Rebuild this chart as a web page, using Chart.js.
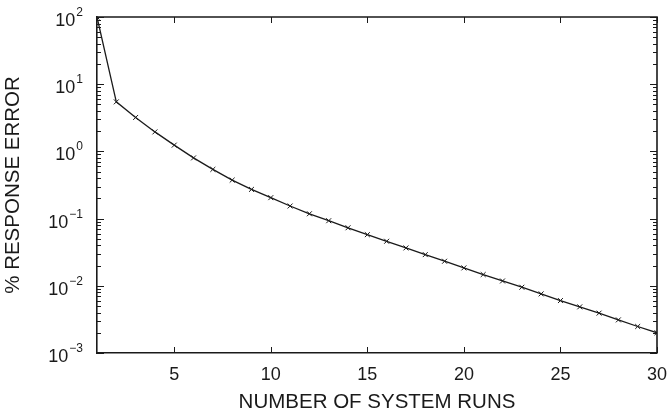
<!DOCTYPE html>
<html>
<head>
<meta charset="utf-8">
<script src="https://cdn.jsdelivr.net/npm/chart.js@4.4.1/dist/chart.umd.min.js"></script>
<style>
  html, body { margin: 0; padding: 0; background: #fff; }
  #chart { display: block; }
</style>
</head>
<body>
<canvas id="chart" width="667" height="415"></canvas>
<script>
const runs = [1, 2, 3, 4, 5, 6, 7, 8, 9, 10, 11, 12, 13, 14, 15, 16, 17, 18, 19, 20, 21, 22, 23, 24, 25, 26, 27, 28, 29, 30];
const responseError = [100, 5.46, 3.2, 1.95, 1.24, 0.80, 0.54, 0.374, 0.272, 0.205, 0.154, 0.118, 0.093, 0.073, 0.0577,
  0.046, 0.0366, 0.0291, 0.0232, 0.01845, 0.0147, 0.0118, 0.00952, 0.00758, 0.00603, 0.00486, 0.00392, 0.00311, 0.00248, 0.0020];
const xTicks = [5, 10, 15, 20, 25, 30];
const yPowers = [-3, -2, -1, 0, 1, 2];

const FONT = '"Liberation Sans", Arial, Helvetica, sans-serif';
const INK = '#1a1a1a';

// inward ticks on all four sides, box lines and 10^n labels
const frameTicks = {
  id: 'frameTicks',
  afterDraw(chart) {
    const { ctx, chartArea: a, scales: { x, y } } = chart;
    ctx.save();
    ctx.strokeStyle = INK;
    ctx.lineWidth = 1;

    ctx.beginPath();
    for (const v of xTicks) {
      const px = Math.round(x.getPixelForValue(v)) + 0.5;
      ctx.moveTo(px, a.bottom); ctx.lineTo(px, a.bottom - 6);
      ctx.moveTo(px, a.top); ctx.lineTo(px, a.top + 6);
    }
    for (const p of yPowers) {
      const py = Math.round(y.getPixelForValue(Math.pow(10, p))) + 0.5;
      ctx.moveTo(a.left, py); ctx.lineTo(a.left + 7, py);
      ctx.moveTo(a.right, py); ctx.lineTo(a.right - 7, py);
      if (p < 2) {
        for (let m = 2; m <= 9; m++) {
          const my = Math.round(y.getPixelForValue(m * Math.pow(10, p))) + 0.5;
          ctx.moveTo(a.left, my); ctx.lineTo(a.left + 4, my);
          ctx.moveTo(a.right, my); ctx.lineTo(a.right - 4, my);
        }
      }
    }
    ctx.stroke();

    // top and right edges of the box
    ctx.lineWidth = 1.6;
    ctx.beginPath();
    ctx.moveTo(a.left, a.top); ctx.lineTo(a.right, a.top); ctx.lineTo(a.right, a.bottom);
    ctx.stroke();

    // y labels as 10 with superscript exponent
    ctx.fillStyle = INK;
    ctx.textBaseline = 'alphabetic';
    for (const p of yPowers) {
      const py = y.getPixelForValue(Math.pow(10, p));
      const exp = p < 0 ? '\u2212' + (-p) : String(p);
      ctx.font = '12px ' + FONT;
      ctx.textAlign = 'right';
      const expRight = a.left - 14;
      ctx.fillText(exp, expRight, py - 1);
      const w = ctx.measureText(exp).width;
      ctx.font = '18px ' + FONT;
      ctx.fillText('10', expRight - w - 1, py + 9);
    }
    ctx.restore();
  }
};

new Chart(document.getElementById('chart'), {
  type: 'line',
  data: {
    datasets: [{
      data: runs.map((r, i) => ({ x: r, y: responseError[i] })),
      borderColor: INK,
      borderWidth: 1.3,
      pointStyle: 'crossRot',
      pointRadius: 3.5,
      pointBorderWidth: 1,
      pointBorderColor: INK,
      fill: false,
      tension: 0
    }]
  },
  options: {
    responsive: false,
    animation: false,
    layout: { padding: { left: 0, top: 17, right: 10, bottom: 0 } },
    plugins: { legend: { display: false }, tooltip: { enabled: false } },
    scales: {
      x: {
        type: 'linear',
        min: 1,
        max: 30,
        afterBuildTicks: s => { s.ticks = xTicks.map(v => ({ value: v })); },
        afterFit: s => { s.height = 62; s.paddingLeft = 0; s.paddingRight = 0; },
        grid: { display: false, drawTicks: false },
        border: { display: true, color: INK, width: 1.6 },
        ticks: { color: INK, padding: 11, font: { family: FONT, size: 18 } },
        title: {
          display: true,
          text: 'NUMBER OF SYSTEM RUNS',
          color: INK,
          font: { family: FONT, size: 20.5 },
          padding: { top: 0, bottom: 0 }
        }
      },
      y: {
        type: 'logarithmic',
        min: 0.001,
        max: 100,
        afterBuildTicks: s => { s.ticks = yPowers.map(p => ({ value: Math.pow(10, p) })); },
        afterFit: s => { s.width = 97; s.paddingTop = 0; s.paddingBottom = 0; },
        grid: { display: false, drawTicks: false },
        border: { display: true, color: INK, width: 1.6 },
        ticks: { display: false },
        title: {
          display: true,
          text: '% RESPONSE ERROR',
          color: INK,
          font: { family: FONT, size: 20.5 },
          padding: { top: 1, bottom: 0 }
        }
      }
    }
  },
  plugins: [frameTicks]
});
</script>
</body>
</html>
